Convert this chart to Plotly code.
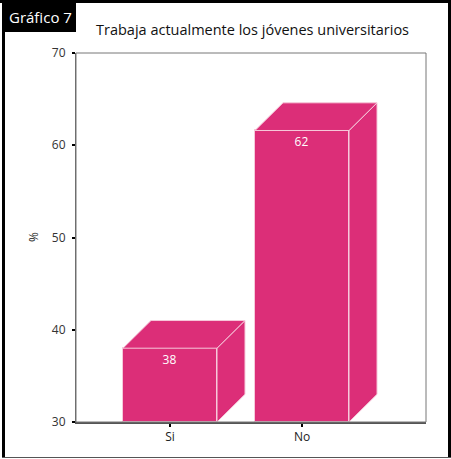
import plotly.graph_objects as go

categories = ["Si", "No"]
values = [38, 61.6]
y_ticks = [30, 40, 50, 60, 70]
title_text = "Trabaja actualmente los jóvenes universitarios"
y_title = "%"
badge_text = "Gráfico 7"

PINK = "#DC2E78"
EDGE = "#F6C9DA"
W = 0.712      # bar width (x units)
DX = 0.212     # depth offset x (x units)
DY = 3.0       # depth offset y (y units)
BASE = 30

# layout pixel geometry
WIDTH, HEIGHT = 451, 459
L, R, T, B = 76, 25, 53, 37
PW = WIDTH - L - R
PH = HEIGHT - T - B

def px(x):
    return (x - L) / PW

def py(y):
    return (HEIGHT - B - y) / PH

xs = list(range(len(categories)))
fig = go.Figure()

# side and top faces of each bar
for x, v in zip(xs, values):
    x0, x1 = x - W / 2, x + W / 2
    fig.add_trace(go.Scatter(
        x=[x1, x1, x1 + DX, x1 + DX, x1],
        y=[BASE, v, v + DY, BASE + DY, BASE],
        fill="toself", fillcolor=PINK, mode="lines",
        line=dict(color=EDGE, width=1), hoverinfo="skip", showlegend=False))
    fig.add_trace(go.Scatter(
        x=[x0, x0 + DX, x1 + DX, x1, x0],
        y=[v, v + DY, v + DY, v, v],
        fill="toself", fillcolor=PINK, mode="lines",
        line=dict(color=EDGE, width=1), hoverinfo="skip", showlegend=False))

# front faces
fig.add_trace(go.Bar(
    x=xs, y=[v - BASE for v in values], base=BASE, width=W,
    marker=dict(color=PINK, line=dict(color=EDGE, width=1)),
    text=[f"{v:.0f}" for v in values], textposition="inside",
    insidetextanchor="end", textangle=0,
    textfont=dict(color="white", size=12, family="Open Sans"),
    showlegend=False, hoverinfo="skip"))

fig.update_layout(
    width=WIDTH, height=HEIGHT,
    margin=dict(l=L, r=R, t=T, b=B),
    paper_bgcolor="white", plot_bgcolor="white",
    font=dict(family="Open Sans", color="#222"),
    xaxis=dict(range=[-0.712, 1.939], tickmode="array", tickvals=xs,
               ticktext=categories, showgrid=False, zeroline=False,
               showline=True, linecolor="#555", linewidth=2,
               ticks="outside", ticklen=3, tickwidth=2, tickcolor="black",
               tickfont=dict(size=12, color="#222")),
    yaxis=dict(range=[30, 70], tickmode="array", tickvals=y_ticks,
               ticktext=[str(t) for t in y_ticks], showgrid=False,
               zeroline=False, showline=True, linecolor="#666", linewidth=1,
               ticks="outside", ticklen=3, tickwidth=2, tickcolor="black",
               ticklabelstandoff=4,
               tickfont=dict(size=12, color="#333")),
    bargap=0,
)

shapes = [
    # plot frame
    dict(type="rect", xref="paper", yref="paper", x0=0, y0=0, x1=1, y1=1,
         line=dict(color="#777", width=1), layer="above"),
    # outer black frame
    dict(type="line", xref="paper", yref="paper", x0=px(0), x1=px(451),
         y0=py(1.5), y1=py(1.5), line=dict(color="black", width=3)),
    dict(type="line", xref="paper", yref="paper", x0=px(3.5), x1=px(3.5),
         y0=py(0), y1=py(458), line=dict(color="black", width=3)),
    dict(type="line", xref="paper", yref="paper", x0=px(449.5), x1=px(449.5),
         y0=py(0), y1=py(458), line=dict(color="black", width=3)),
    dict(type="line", xref="paper", yref="paper", x0=px(2), x1=px(451),
         y0=py(457.5), y1=py(457.5), line=dict(color="#555", width=1)),
    # badge
    dict(type="rect", xref="paper", yref="paper", x0=px(2), x1=px(76),
         y0=py(32), y1=py(0), fillcolor="black", line=dict(width=0)),
]
fig.update_layout(shapes=shapes)

fig.add_annotation(text=badge_text, xref="paper", yref="paper",
                   x=px(40), y=py(17), showarrow=False,
                   xanchor="center", yanchor="middle",
                   font=dict(color="white", size=15, family="Open Sans"))
fig.add_annotation(text=title_text, xref="paper", yref="paper",
                   x=px(252), y=py(30), showarrow=False,
                   xanchor="center", yanchor="middle",
                   font=dict(color="#111", size=14.5, family="Open Sans"))
fig.add_annotation(text=y_title, xref="paper", yref="paper",
                   x=px(33), y=py(237), showarrow=False, textangle=-90,
                   xanchor="center", yanchor="middle",
                   font=dict(color="#222", size=12, family="Open Sans"))

fig.write_html("out.html",
               config={"displayModeBar": False},
               post_script="document.body.style.margin='0';"
                           "document.body.style.overflow='hidden';")
